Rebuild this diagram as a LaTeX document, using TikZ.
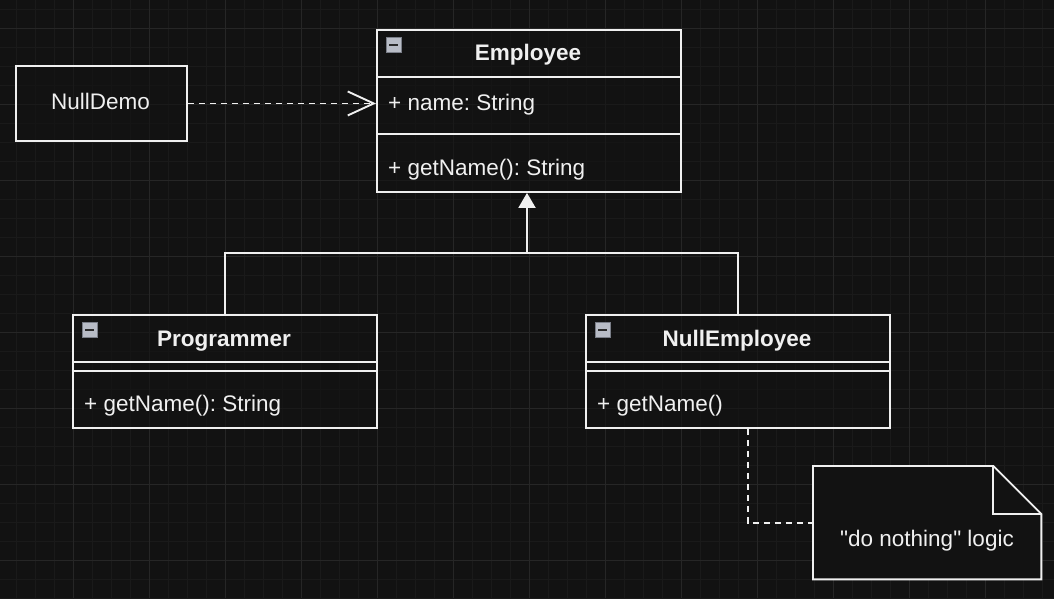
\documentclass[tikz,border=0pt]{standalone}
\usepackage{fontspec}
\setmainfont{Liberation Sans}
\usetikzlibrary{arrows.meta,calc}
\definecolor{bg}{HTML}{121212}
\definecolor{fg}{HTML}{F0F0F0}
\definecolor{gminor}{HTML}{1A1A1A}
\definecolor{gmajor}{HTML}{262626}
\definecolor{iconfill}{HTML}{B8BCC6}
\definecolor{iconedge}{HTML}{7A7E88}
\definecolor{iconbar}{HTML}{2A2A2A}
\frenchspacing
\begin{document}
\begin{tikzpicture}[x=1pt,y=-1pt,
  lw/.style={line width=1.9pt},
  box/.style={draw=fg, fill=bg, fill opacity=0.6, text opacity=1, lw, inner sep=0pt, anchor=north west},
  ttl/.style={text=fg, font=\fontsize{22.5}{27}\bfseries\selectfont, anchor=base, inner sep=0pt},
  mem/.style={text=fg, font=\fontsize{22.5}{27}\selectfont, anchor=base west, inner sep=0pt},
  plain/.style={text=fg, font=\fontsize{22.5}{27}\selectfont, anchor=base, inner sep=0pt},
  icon/.style={draw=iconedge, fill=iconfill, line width=1pt, minimum size=15pt, inner sep=0pt, anchor=north west},
  conn/.style={draw=fg, lw},
  dsh/.style={conn, dash pattern=on 6pt off 5pt},
]
\fill[bg] (0,0) rectangle (1054,598);
\useasboundingbox (0,0) rectangle (1054,598);
% grid
\foreach \x in {16,35,...,1054} \draw[gminor,line width=1pt] (\x,0) -- (\x,598);
\foreach \y in {9,28,...,598} \draw[gminor,line width=1pt] (0,\y) -- (1054,\y);
\foreach \x in {73,149,...,1054} \draw[gmajor,line width=1pt] (\x,0) -- (\x,598);
\foreach \y in {28,104,...,598} \draw[gmajor,line width=1pt] (0,\y) -- (1054,\y);

% NullDemo
\node[box, minimum width=171pt, minimum height=75pt] (demo) at (15,65) {};
\node[plain] (demotxt) at (100.5,109) {NullDemo};

% Employee
\node[box, minimum width=304pt, minimum height=162pt] (emp) at (376,29) {};
\draw[draw=fg, lw] (376,77) -- (680,77);
\draw[draw=fg, lw] (376,134) -- (680,134);
\node[icon] (empicon) at (386,37) {};
\draw[iconbar, line width=2pt] (389,44.5) -- (398,44.5);
\node[ttl] (emptitle) at (528,60) {Employee};
\node[mem] (empattr) at (388,110) {+ name: String};
\node[mem] (empop) at (388,175) {+ getName(): String};

% Programmer
\node[box, minimum width=304pt, minimum height=113pt] (prog) at (72,314) {};
\draw[draw=fg, lw] (72,362) -- (376,362);
\draw[draw=fg, lw] (72,371) -- (376,371);
\node[icon] (progicon) at (82,322) {};
\draw[iconbar, line width=2pt] (85,329.5) -- (94,329.5);
\node[ttl] (progtitle) at (224,346) {Programmer};
\node[mem] (progop) at (84,411) {+ getName(): String};

% NullEmployee
\node[box, minimum width=304pt, minimum height=113pt] (nemp) at (585,314) {};
\draw[draw=fg, lw] (585,362) -- (889,362);
\draw[draw=fg, lw] (585,371) -- (889,371);
\node[icon] (nempicon) at (595,322) {};
\draw[iconbar, line width=2pt] (598,329.5) -- (607,329.5);
\node[ttl] (nemptitle) at (737,346) {NullEmployee};
\node[mem] (nempop) at (597,411) {+ getName()};

% Note
\node[inner sep=0pt, minimum width=228pt, minimum height=113pt, anchor=north west] (note) at (813,466) {};
\draw[draw=fg, fill=bg, lw, line join=miter]
  (note.north west) -- ($(note.north east)+(-48,0)$) -- ($(note.north east)+(0,48)$)
  -- (note.south east) -- (note.south west) -- cycle;
\draw[draw=fg, lw, line join=miter]
  ($(note.north east)+(-48,0)$) -- ($(note.north east)+(-48,48)$) -- ($(note.north east)+(0,48)$);
\node[plain] (notetxt) at (927,546) {\textquotedbl do nothing\textquotedbl{} logic};

% connectors
\draw[dsh, -{Straight Barb[length=26pt,width=24pt,line width=1.9pt]}] (demo.east) -- (demo.east -| emp.west);
\coordinate (join) at (527,253);
\draw[conn, -{Triangle[length=15pt,width=17pt,fill=fg]}] (prog.north) |- (join) -- (join |- emp.south);
\draw[conn] (nemp.north) |- (join);
\coordinate (nlink) at ($(nemp.south)+(10,0)$);
\draw[dsh] (nlink) |- (note.west);
\end{tikzpicture}
\end{document}
